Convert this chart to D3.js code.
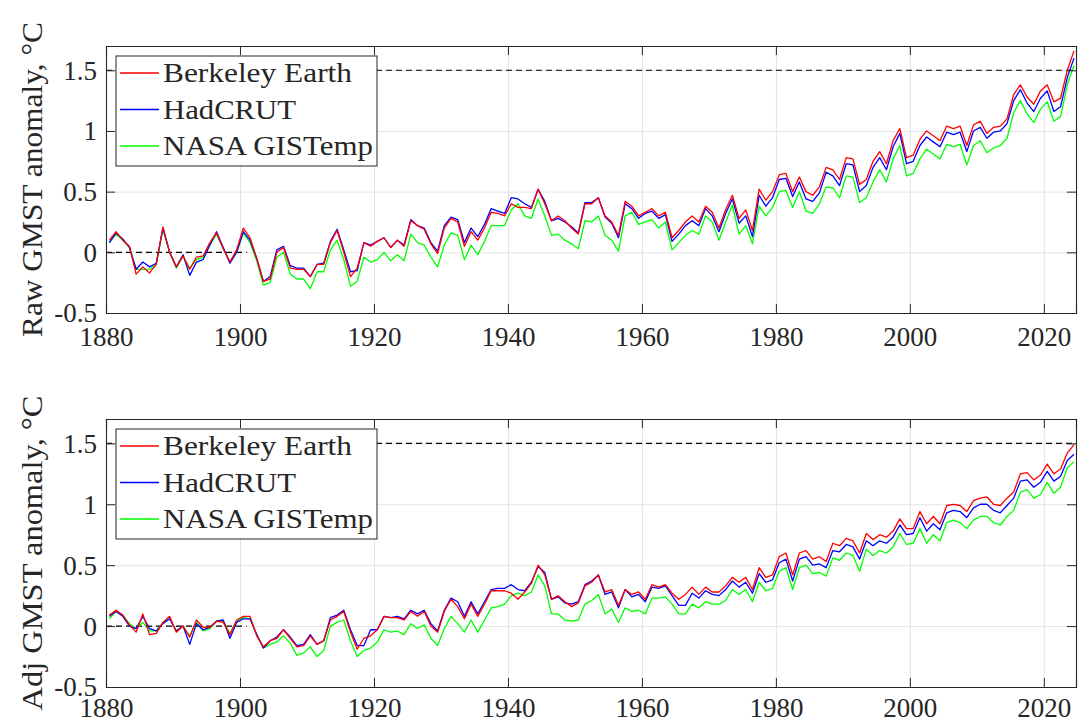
<!DOCTYPE html>
<html>
<head>
<meta charset="utf-8">
<script src="https://cdn.jsdelivr.net/npm/d3@7"></script>
<style>
  body { margin: 0; background: #fff; }
  text { font-family: "Liberation Serif", "Times New Roman", serif; fill: #262626; }
</style>
</head>
<body>
<div id="chart-area"></div>
<script>
// annual values, plotted at mid-year
var years = d3.range(1880, 2025);

var rawBerkeley = [0.10,0.17,0.10,0.05,-0.18,-0.12,-0.17,-0.10,0.21,0.00,
  -0.12,-0.03,-0.14,-0.04,-0.03,0.08,0.16,0.03,-0.08,0.02,
  0.20,0.12,-0.05,-0.24,-0.22,0.00,0.04,-0.13,-0.14,-0.14,
  -0.20,-0.10,-0.10,0.08,0.18,0.00,-0.20,-0.13,0.08,0.05,
  0.09,0.12,0.04,0.10,0.05,0.26,0.22,0.19,0.07,-0.01,
  0.20,0.28,0.25,0.05,0.17,0.10,0.20,0.33,0.32,0.30,
  0.40,0.37,0.37,0.36,0.52,0.40,0.26,0.30,0.26,0.20,
  0.15,0.40,0.40,0.45,0.30,0.25,0.14,0.42,0.38,0.30,
  0.33,0.36,0.30,0.33,0.12,0.18,0.25,0.30,0.25,0.38,
  0.33,0.20,0.35,0.47,0.28,0.35,0.18,0.52,0.43,0.50,
  0.64,0.65,0.50,0.62,0.50,0.47,0.54,0.70,0.68,0.60,
  0.78,0.77,0.56,0.60,0.75,0.83,0.73,0.92,1.02,0.78,
  0.80,0.93,1.00,0.96,0.92,1.04,1.02,1.04,0.88,1.05,
  1.08,0.98,1.03,1.04,1.10,1.30,1.38,1.28,1.22,1.33,
  1.38,1.24,1.27,1.50,1.66];

var rawHadcrut = [0.08,0.16,0.11,0.04,-0.14,-0.08,-0.12,-0.09,0.20,0.00,
  -0.12,-0.02,-0.19,-0.08,-0.06,0.06,0.17,0.04,-0.09,0.00,
  0.17,0.10,-0.05,-0.24,-0.20,0.02,0.05,-0.11,-0.13,-0.13,
  -0.20,-0.10,-0.09,0.09,0.19,0.02,-0.16,-0.15,0.08,0.06,
  0.09,0.12,0.04,0.10,0.06,0.27,0.22,0.20,0.08,0.01,
  0.22,0.29,0.27,0.08,0.20,0.13,0.23,0.36,0.34,0.32,
  0.45,0.44,0.40,0.37,0.52,0.42,0.26,0.28,0.25,0.21,
  0.16,0.41,0.41,0.45,0.29,0.24,0.12,0.40,0.36,0.28,
  0.32,0.34,0.28,0.31,0.09,0.15,0.22,0.26,0.22,0.36,
  0.30,0.17,0.32,0.44,0.24,0.30,0.13,0.47,0.38,0.45,
  0.60,0.61,0.46,0.58,0.44,0.42,0.49,0.66,0.63,0.55,
  0.73,0.72,0.50,0.55,0.70,0.78,0.68,0.87,0.98,0.73,
  0.75,0.88,0.95,0.91,0.87,0.99,0.97,0.99,0.83,1.00,
  1.03,0.94,0.99,1.00,1.06,1.25,1.34,1.23,1.16,1.27,
  1.33,1.16,1.20,1.44,1.60];

var rawGistemp = [0.08,0.15,0.10,0.04,-0.14,-0.14,-0.14,-0.10,0.19,0.00,
  -0.13,-0.03,-0.13,-0.06,-0.04,0.06,0.15,0.03,-0.08,0.00,
  0.16,0.08,-0.07,-0.27,-0.25,-0.04,0.00,-0.18,-0.22,-0.22,
  -0.30,-0.16,-0.16,0.02,0.10,-0.06,-0.28,-0.24,-0.04,-0.08,
  -0.06,0.00,-0.07,-0.02,-0.07,0.15,0.08,0.06,-0.04,-0.12,
  0.06,0.16,0.14,-0.06,0.06,-0.02,0.09,0.22,0.22,0.22,
  0.35,0.40,0.30,0.28,0.44,0.30,0.14,0.15,0.10,0.07,
  0.03,0.26,0.25,0.30,0.14,0.10,0.01,0.30,0.33,0.23,
  0.25,0.27,0.20,0.25,0.02,0.08,0.14,0.18,0.15,0.30,
  0.25,0.10,0.25,0.39,0.15,0.22,0.07,0.38,0.30,0.37,
  0.50,0.51,0.37,0.50,0.34,0.32,0.40,0.54,0.53,0.45,
  0.63,0.62,0.41,0.45,0.58,0.68,0.58,0.77,0.88,0.63,
  0.65,0.77,0.85,0.81,0.77,0.89,0.87,0.89,0.72,0.88,
  0.92,0.82,0.86,0.88,0.94,1.15,1.25,1.14,1.07,1.18,
  1.24,1.08,1.12,1.38,1.54];

var adjBerkeley = [0.09,0.13,0.09,0.01,-0.05,0.10,-0.07,-0.06,0.03,0.08,
  -0.05,0.00,-0.09,0.05,-0.01,-0.01,0.04,0.03,-0.07,0.05,
  0.08,0.08,-0.08,-0.17,-0.12,-0.10,-0.03,-0.10,-0.17,-0.16,
  -0.08,-0.15,-0.12,0.05,0.08,0.12,-0.05,-0.19,-0.10,-0.08,
  -0.03,0.08,0.07,0.07,0.05,0.12,0.08,0.12,0.00,-0.05,
  0.12,0.22,0.16,0.06,0.18,0.08,0.18,0.29,0.29,0.29,
  0.27,0.22,0.28,0.35,0.50,0.42,0.22,0.25,0.20,0.16,
  0.19,0.33,0.36,0.42,0.28,0.30,0.17,0.30,0.26,0.28,
  0.22,0.34,0.32,0.34,0.27,0.22,0.26,0.32,0.26,0.32,
  0.28,0.28,0.33,0.40,0.36,0.40,0.30,0.48,0.40,0.42,
  0.57,0.60,0.42,0.60,0.62,0.55,0.57,0.53,0.68,0.66,
  0.72,0.70,0.60,0.76,0.71,0.75,0.73,0.78,0.88,0.80,
  0.80,0.94,0.84,0.90,0.84,0.99,1.00,0.99,0.94,1.03,
  1.05,1.06,1.00,0.99,1.05,1.10,1.25,1.26,1.20,1.24,
  1.33,1.25,1.29,1.42,1.49];

var adjHadcrut = [0.08,0.12,0.08,0.00,-0.02,0.08,-0.02,-0.04,0.02,0.06,
  -0.04,0.00,-0.15,0.02,-0.03,-0.01,0.04,0.05,-0.10,0.03,
  0.06,0.06,-0.07,-0.18,-0.12,-0.09,-0.03,-0.09,-0.16,-0.15,
  -0.07,-0.15,-0.12,0.07,0.09,0.13,-0.03,-0.16,-0.16,-0.03,
  -0.03,0.08,0.07,0.08,0.06,0.13,0.10,0.13,0.02,-0.04,
  0.13,0.23,0.20,0.08,0.20,0.10,0.20,0.30,0.31,0.31,
  0.34,0.30,0.29,0.36,0.49,0.44,0.22,0.24,0.19,0.18,
  0.20,0.34,0.37,0.42,0.26,0.28,0.15,0.30,0.24,0.26,
  0.20,0.32,0.31,0.33,0.25,0.17,0.17,0.27,0.23,0.29,
  0.26,0.25,0.30,0.37,0.32,0.36,0.27,0.43,0.36,0.38,
  0.52,0.55,0.37,0.55,0.57,0.50,0.51,0.48,0.62,0.61,
  0.67,0.65,0.55,0.70,0.66,0.70,0.68,0.73,0.83,0.75,
  0.76,0.89,0.78,0.84,0.79,0.93,0.95,0.94,0.89,0.97,
  1.00,1.00,0.95,0.93,0.99,1.05,1.19,1.20,1.14,1.18,
  1.27,1.19,1.23,1.36,1.41];

var adjGistemp = [0.06,0.12,0.09,0.02,-0.02,0.03,-0.04,-0.04,0.03,0.06,
  -0.04,0.00,-0.08,0.03,-0.04,-0.02,0.04,0.04,-0.06,0.04,
  0.07,0.06,-0.07,-0.18,-0.15,-0.13,-0.08,-0.14,-0.24,-0.22,
  -0.17,-0.25,-0.20,0.00,0.03,0.05,-0.12,-0.25,-0.20,-0.18,
  -0.13,-0.03,-0.05,-0.04,-0.07,0.02,-0.02,0.01,-0.10,-0.16,
  -0.02,0.08,0.02,-0.05,0.05,-0.05,0.05,0.15,0.16,0.18,
  0.25,0.27,0.25,0.28,0.42,0.33,0.10,0.10,0.05,0.04,
  0.05,0.18,0.21,0.26,0.10,0.14,0.03,0.15,0.12,0.13,
  0.10,0.23,0.23,0.24,0.18,0.10,0.10,0.18,0.15,0.20,
  0.18,0.18,0.21,0.30,0.26,0.30,0.20,0.36,0.29,0.31,
  0.45,0.48,0.30,0.48,0.50,0.43,0.44,0.41,0.56,0.54,
  0.60,0.58,0.45,0.63,0.58,0.62,0.60,0.65,0.76,0.67,
  0.68,0.80,0.68,0.75,0.70,0.85,0.87,0.85,0.80,0.87,
  0.90,0.90,0.85,0.83,0.90,0.95,1.10,1.12,1.05,1.08,
  1.18,1.09,1.14,1.30,1.35];

var seriesNames = ["Berkeley Earth", "HadCRUT", "NASA GISTemp"];
var seriesColors = ["#ff0000", "#0000ff", "#00ff00"];
var xTicks = [1880, 1900, 1920, 1940, 1960, 1980, 2000, 2020];
var yTicks = [-0.5, 0, 0.5, 1, 1.5];

var panels = [
  { top: 46, bottom: 313, pad: 33, label: "Raw GMST anomaly, \u00B0C", data: [rawBerkeley, rawHadcrut, rawGistemp] },
  { top: 419, bottom: 687, pad: 30, label: "Adj GMST anomaly, \u00B0C", data: [adjBerkeley, adjHadcrut, adjGistemp] }
];

var left = 106, right = 1076;
var axisColor = "#262626";

var svg = d3.select("#chart-area")
    .append("svg")
    .attr("width", 1078)
    .attr("height", 725);

var x = d3.scaleLinear().domain([1880, 2024.8]).range([left, right]);

panels.forEach(function(p, pi) {
    var y = d3.scaleLinear().domain([-0.5, 1.7]).range([p.bottom, p.top]);
    var g = svg.append("g");

    // grid
    g.append("g")
        .attr("transform", "translate(0," + p.bottom + ")")
        .call(d3.axisBottom(x).tickValues(xTicks).tickSize(-(p.bottom - p.top)).tickFormat(""))
        .call(function(s) { s.select(".domain").remove(); s.selectAll("line").attr("stroke", "#e3e3e3"); });
    g.append("g")
        .attr("transform", "translate(" + left + ",0)")
        .call(d3.axisLeft(y).tickValues(yTicks).tickSize(-(right - left)).tickFormat(""))
        .call(function(s) { s.select(".domain").remove(); s.selectAll("line").attr("stroke", "#e3e3e3"); });

    // clip
    svg.append("clipPath").attr("id", "clip" + pi)
        .append("rect").attr("x", left).attr("y", p.top).attr("width", right - left).attr("height", p.bottom - p.top);

    var plot = g.append("g").attr("clip-path", "url(#clip" + pi + ")");

    // reference lines
    plot.append("line")
        .attr("x1", x(1880)).attr("x2", x(2024.8))
        .attr("y1", y(1.5)).attr("y2", y(1.5))
        .attr("stroke", "#000").attr("stroke-width", 1.2).attr("stroke-dasharray", "6,4");
    plot.append("line")
        .attr("x1", x(1880)).attr("x2", x(1901))
        .attr("y1", y(0)).attr("y2", y(0))
        .attr("stroke", "#000").attr("stroke-width", 1.2).attr("stroke-dasharray", "6,4");

    var line = d3.line()
        .x(function(d, i) { return x(years[i] + 0.5); })
        .y(function(d) { return y(d); });

    // green first so red stays on top like the reference
    [2, 1, 0].forEach(function(k) {
        plot.append("path")
            .datum(p.data[k])
            .attr("fill", "none")
            .attr("stroke", seriesColors[k])
            .attr("stroke-width", 1.3)
            .attr("stroke-linejoin", "round")
            .attr("d", line);
    });

    // axes (ticks inside, MATLAB box)
    var xb = g.append("g")
        .attr("transform", "translate(0," + p.bottom + ")")
        .call(d3.axisBottom(x).tickValues(xTicks).tickSize(-9).tickPadding(p.pad).tickFormat(d3.format("d")));
    var xt = g.append("g")
        .attr("transform", "translate(0," + p.top + ")")
        .call(d3.axisTop(x).tickValues(xTicks).tickSize(-9).tickFormat(""));
    var yl = g.append("g")
        .attr("transform", "translate(" + left + ",0)")
        .call(d3.axisLeft(y).tickValues(yTicks).tickSize(-9).tickPadding(9)
            .tickFormat(function(d) { return d === 0 ? "0" : String(d); }));
    var yr = g.append("g")
        .attr("transform", "translate(" + right + ",0)")
        .call(d3.axisRight(y).tickValues(yTicks).tickSize(-9).tickFormat(""));

    [xb, xt, yl, yr].forEach(function(a) {
        a.select(".domain").attr("stroke", axisColor).attr("stroke-width", 1.1);
        a.selectAll(".tick line").attr("stroke", axisColor).attr("stroke-width", 1);
        a.selectAll("text").style("font-family", "Liberation Serif, serif").style("font-size", "27px").attr("fill", axisColor);
    });
    xb.selectAll("text").attr("dy", "0");
    yl.selectAll("text").attr("dy", "0.33em");

    // y label
    g.append("text")
        .attr("transform", "translate(42," + ((p.top + p.bottom) / 2) + ") rotate(-90)")
        .attr("text-anchor", "middle")
        .attr("textLength", 315)
        .attr("lengthAdjust", "spacingAndGlyphs")
        .style("font-size", "30px")
        .text(p.label);

    // legend
    var lg = g.append("g").attr("transform", "translate(116," + (p.top + 10) + ")");
    lg.append("rect")
        .attr("width", 261).attr("height", 110)
        .attr("fill", "#fff").attr("stroke", axisColor).attr("stroke-width", 1);
    var widths = [189, 133, 210];
    seriesNames.forEach(function(name, k) {
        var cy = 17 + k * 36.5;
        lg.append("line")
            .attr("x1", 4).attr("x2", 43).attr("y1", cy).attr("y2", cy)
            .attr("stroke", seriesColors[k]).attr("stroke-width", 1.3);
        lg.append("text")
            .attr("x", 47).attr("y", cy + 9)
            .attr("textLength", widths[k])
            .attr("lengthAdjust", "spacingAndGlyphs")
            .style("font-size", "28px")
            .text(name);
    });
});
</script>
</body>
</html>
